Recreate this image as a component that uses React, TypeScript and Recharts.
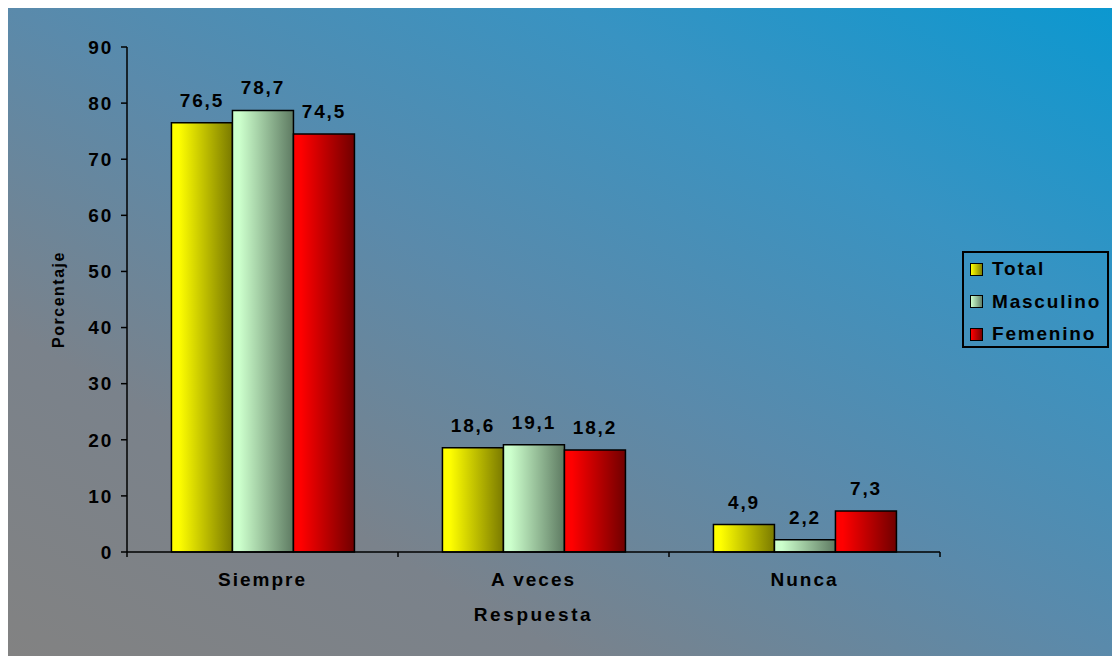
import { BarChart, Bar, XAxis, YAxis, Legend, LabelList } from "recharts";

const categories = ["Siempre", "A veces", "Nunca"];
const totalValues = [76.5, 18.6, 4.9];
const masculinoValues = [78.7, 19.1, 2.2];
const femeninoValues = [74.5, 18.2, 7.3];
const yTicks = [0, 10, 20, 30, 40, 50, 60, 70, 80, 90];

const chartData = categories.map((name, i) => ({
  name,
  total: totalValues[i],
  masculino: masculinoValues[i],
  femenino: femeninoValues[i],
}));

const FONT = '"Liberation Sans", Arial, sans-serif';
const CHART_W = 1112;
const CHART_H = 651;
const MARGIN = { top: 42, right: 180, bottom: 0, left: 0 };
const Y_W = 119;

const fmt = (v: number) => v.toFixed(1).replace(".", ",");

const labelStyle = {
  fontFamily: FONT,
  fontSize: 19,
  fontWeight: 700,
  fill: "#000",
  letterSpacing: "1.8px",
};

// category name at the band centre, tick marks at the band edges
const CategoryTick = (props: any) => {
  const { x, y, payload, index } = props;
  const half =
    payload && payload.offset ? payload.offset : (CHART_W - MARGIN.left - MARGIN.right - Y_W) / categories.length / 2;
  return (
    <g>
      <line x1={x - half} x2={x - half} y1={y} y2={y + 5} stroke="#000" strokeWidth={1.5} />
      {index === categories.length - 1 && (
        <line x1={x + half} x2={x + half} y1={y} y2={y + 5} stroke="#000" strokeWidth={1.5} />
      )}
      <text x={x} y={y + 34} textAnchor="middle" style={{ ...labelStyle, letterSpacing: "2px" }}>
        {payload.value}
      </text>
    </g>
  );
};

const legendItems = [
  { name: "Total", from: "#ffff00", to: "#808000" },
  { name: "Masculino", from: "#ccffcc", to: "#62806a" },
  { name: "Femenino", from: "#ff0000", to: "#7a0000" },
];

const LegendBox = () => (
  <div
    style={{
      width: 147,
      height: 97,
      border: "2px solid #000",
      boxSizing: "border-box",
      position: "relative",
      fontFamily: FONT,
    }}
  >
    {legendItems.map((item, i) => (
      <div
        key={item.name}
        style={{ position: "absolute", left: 6, top: 16 + i * 32.5 - 11, height: 22, display: "flex", alignItems: "center" }}
      >
        <span
          style={{
            width: 11,
            height: 11,
            border: "1.5px solid #000",
            background: `linear-gradient(to right, ${item.from}, ${item.to})`,
            display: "inline-block",
            marginRight: 9,
          }}
        />
        <span style={{ fontSize: 19, fontWeight: 700, letterSpacing: "1.8px", color: "#000" }}>{item.name}</span>
      </div>
    ))}
  </div>
);

export default function App() {
  return (
    <div
      style={{
        width: CHART_W,
        height: CHART_H,
        marginTop: -3,
        position: "relative",
        background:
          "linear-gradient(to top right, #828282 0%, #7a828b 25%, #5a8aab 50%, #3893c2 75%, #0b98d0 100%)",
      }}
    >
      <BarChart
        width={CHART_W}
        height={CHART_H}
        data={chartData}
        margin={MARGIN}
        barGap={0}
        barCategoryGap="16.4%"
      >
        <defs>
          <linearGradient id="gTotal" x1="0" y1="0" x2="1" y2="0">
            <stop offset="0" stopColor="#ffff00" />
            <stop offset="0.12" stopColor="#ffff00" />
            <stop offset="1" stopColor="#7a7a00" />
          </linearGradient>
          <linearGradient id="gMasc" x1="0" y1="0" x2="1" y2="0">
            <stop offset="0" stopColor="#ccffcc" />
            <stop offset="0.12" stopColor="#ccffcc" />
            <stop offset="1" stopColor="#5e7a62" />
          </linearGradient>
          <linearGradient id="gFem" x1="0" y1="0" x2="1" y2="0">
            <stop offset="0" stopColor="#ff0000" />
            <stop offset="0.12" stopColor="#ff0000" />
            <stop offset="1" stopColor="#700000" />
          </linearGradient>
        </defs>
        <XAxis
          dataKey="name"
          interval={0}
          height={104}
          tickLine={false}
          tickSize={0}
          tickMargin={0}
          axisLine={{ stroke: "#000", strokeWidth: 1.5 }}
          tick={<CategoryTick />}
          label={{
            value: "Respuesta",
            position: "insideBottom",
            offset: 35,
            style: { ...labelStyle, letterSpacing: "2.6px" },
          }}
        />
        <YAxis
          domain={[0, 90]}
          ticks={yTicks}
          interval={0}
          width={Y_W}
          tickSize={6}
          tickMargin={8}
          axisLine={{ stroke: "#000", strokeWidth: 1.5 }}
          tickLine={{ stroke: "#000", strokeWidth: 1.5 }}
          tick={{ style: labelStyle }}
          label={{
            value: "Porcentaje",
            angle: -90,
            position: "insideLeft",
            offset: 50,
            style: { ...labelStyle, fontSize: 16, letterSpacing: "1.5px", textAnchor: "middle" },
          }}
        />
        <Legend
          layout="vertical"
          align="center"
          verticalAlign="middle"
          content={<LegendBox />}
          wrapperStyle={{ left: 954, top: 246, width: 147, height: 97 }}
        />
        <Bar dataKey="total" name="Total" fill="url(#gTotal)" stroke="#000" strokeWidth={1.5} isAnimationActive={false}>
          <LabelList dataKey="total" position="top" offset={16} formatter={fmt} style={labelStyle} />
        </Bar>
        <Bar dataKey="masculino" name="Masculino" fill="url(#gMasc)" stroke="#000" strokeWidth={1.5} isAnimationActive={false}>
          <LabelList dataKey="masculino" position="top" offset={16} formatter={fmt} style={labelStyle} />
        </Bar>
        <Bar dataKey="femenino" name="Femenino" fill="url(#gFem)" stroke="#000" strokeWidth={1.5} isAnimationActive={false}>
          <LabelList dataKey="femenino" position="top" offset={16} formatter={fmt} style={labelStyle} />
        </Bar>
      </BarChart>
    </div>
  );
}
